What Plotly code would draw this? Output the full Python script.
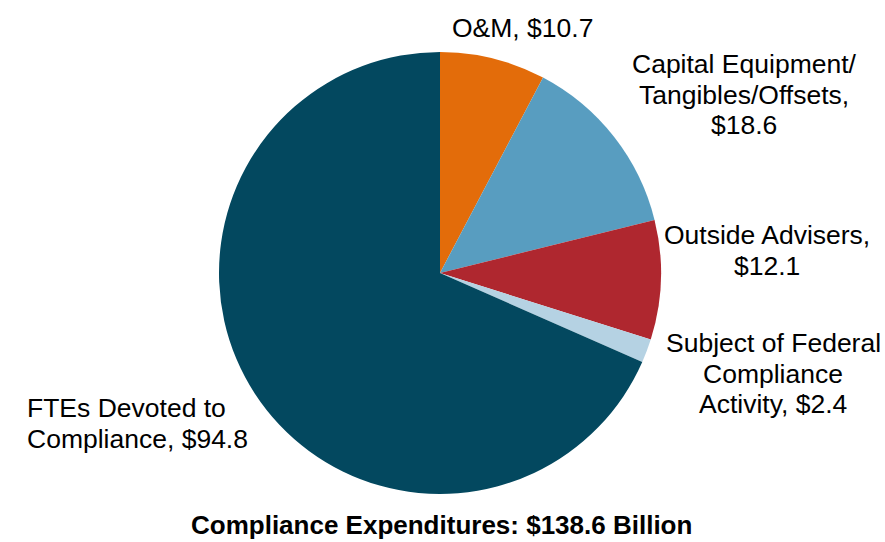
import plotly.graph_objects as go

# compliance spending by category, $ billions
categories = ['O&M', 'Capital Equipment/Tangibles/Offsets', 'Outside Advisers',
              'Subject of Federal Compliance Activity', 'FTEs Devoted to Compliance']
values = [10.7, 18.6, 12.1, 2.4, 94.8]
colors = ['#E36C0A', '#589DC0', '#AF272F', '#B5D2E3', '#03485F']
total = 138.6

# label text shown beside each slice (one entry per line)
label_text = [['O&M, $10.7'],
              ['Capital Equipment/', 'Tangibles/Offsets,', '$18.6'],
              ['Outside Advisers,', '$12.1'],
              ['Subject of Federal', 'Compliance', 'Activity, $2.4'],
              ['FTEs Devoted to', 'Compliance, $94.8']]

W, H = 885, 542
# label placement in px: anchor x, first line centre y, alignment
label_pos = [(522, 28, 'center'), (744, 64, 'center'), (767, 235, 'center'),
             (773, 343, 'center'), (25, 408, 'left')]
line_gap = 30.5

fig = go.Figure(go.Pie(
    labels=categories, values=values, sort=False, direction='clockwise', rotation=0,
    marker=dict(colors=colors, line=dict(width=0)),
    textinfo='none', hoverinfo='label+value', showlegend=False,
    domain=dict(x=[219 / W, 661 / W], y=[1 - 494 / H, 1 - 52 / H]),
))

for lines, (px_x, px_y, align) in zip(label_text, label_pos):
    for i, line in enumerate(lines):
        fig.add_annotation(text=line, x=px_x / W, y=1 - (px_y + i * line_gap) / H,
                           xref='paper', yref='paper', xanchor=align, yanchor='middle',
                           showarrow=False, font=dict(size=26.5, color='#000000'))

# bottom title
fig.add_annotation(text='<b>Compliance Expenditures: $%.1f Billion</b>' % total,
                   x=441 / W, y=0, xref='paper', yref='paper',
                   xanchor='center', yanchor='bottom', showarrow=False,
                   font=dict(size=26, color='#000000'))

fig.update_layout(width=W, height=H, margin=dict(l=0, r=0, t=0, b=0),
                  paper_bgcolor='white', plot_bgcolor='white',
                  font=dict(family='Liberation Sans, Arial, sans-serif'))

fig.write_html("out.html", config={'displayModeBar': False},
               post_script="document.body.style.margin='0';document.body.style.overflow='hidden';")
